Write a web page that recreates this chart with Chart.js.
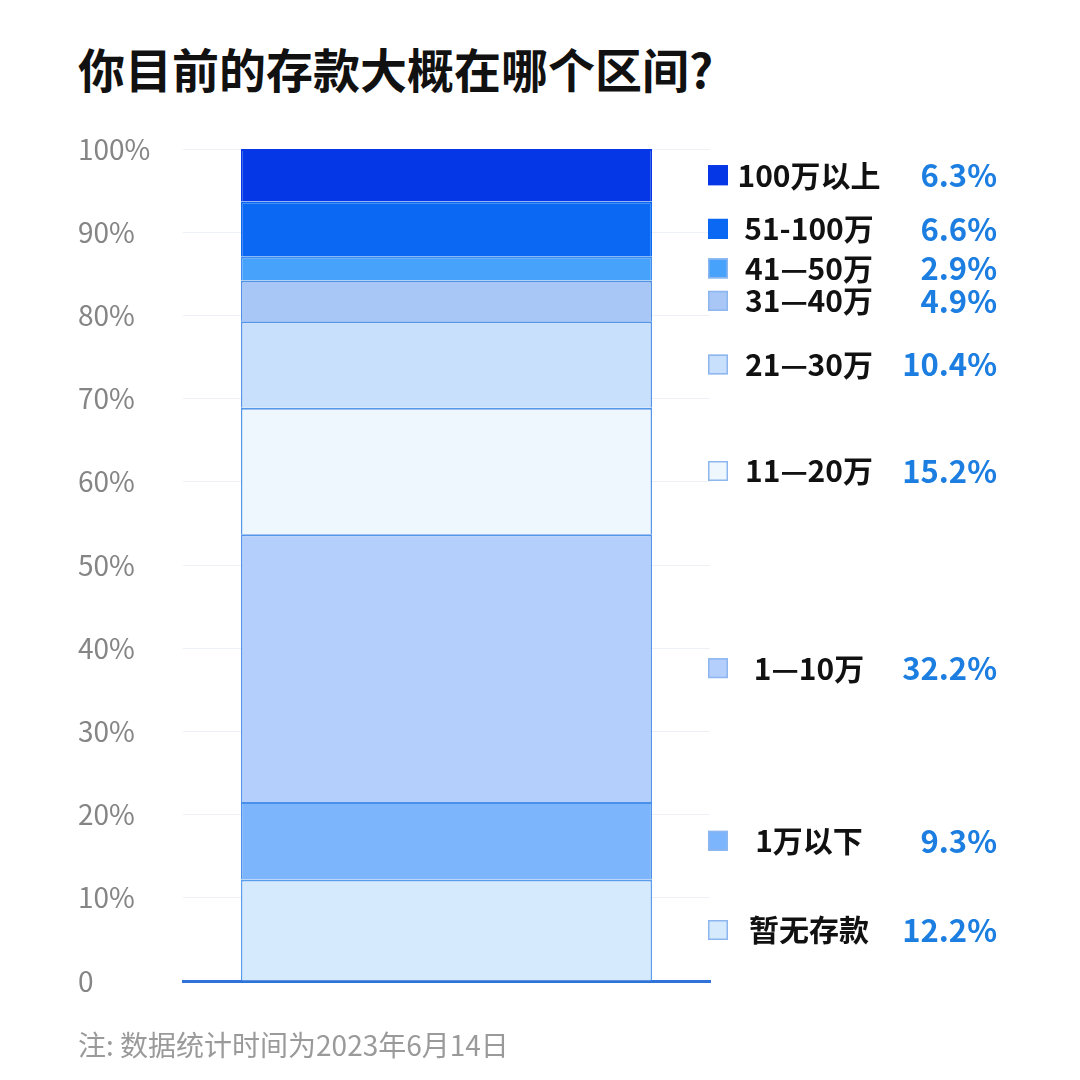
<!DOCTYPE html>
<html lang="zh">
<head>
<meta charset="utf-8">
<title>你目前的存款大概在哪个区间?</title>
<script src="https://cdn.jsdelivr.net/npm/chart.js@4/dist/chart.umd.min.js"></script>
<style>
  html, body { margin: 0; padding: 0; background: #fff; }
  #wrap { position: relative; width: 1080px; height: 1080px; overflow: hidden; }
  #chart { position: absolute; left: 0; top: 0; }
  .title {
    position: absolute; left: 78px; top: 44px; margin: 0;
    font: bold 47px/1 "Noto Sans CJK SC", sans-serif; color: #111;
  }
  .note {
    position: absolute; left: 78px; top: 1030px;
    font: 28px/1 "Noto Sans CJK SC", sans-serif; color: #9a9a9a;
  }
</style>
</head>
<body>
<div id="wrap">
  <h1 class="title">你目前的存款大概在哪个区间?</h1>
  <canvas id="chart" width="1080" height="1080"></canvas>
  <div class="note">注: 数据统计时间为2023年6月14日</div>
</div>
<script>
// stacked from the bottom up
const categories = ["暂无存款", "1万以下", "1—10万", "11—20万", "21—30万", "31—40万", "41—50万", "51-100万", "100万以上"];
const shares = [12.2, 9.3, 32.2, 15.2, 10.4, 4.9, 2.9, 6.6, 6.3];
const yTicks = [0, 10, 20, 30, 40, 50, 60, 70, 80, 90, 100];

const fills = ["#d5eafd", "#7cb5fb", "#b4cffb", "#eef7fe", "#c9e0fd", "#a8c7f7", "#46a2fb", "#0b68f3", "#0637e6"];
const edges = ["#5a9dec", "#4a8fe8", "#5596e8", "#5596e8", "#5596e8", "#5292e4", "#3d8df0", "#0b68f3", "#0637e6"];

const FONT = '"Noto Sans CJK SC", sans-serif';

// legend on the right, each entry placed at the middle of its segment
const sideLegend = {
    id: "sideLegend",
    afterDraw(chart) {
        const ctx = chart.ctx;
        const right = chart.chartArea.right;
        chart.data.datasets.forEach((ds, i) => {
            const bar = chart.getDatasetMeta(i).data[0];
            const y = (bar.y + bar.base) / 2;
            ctx.save();
            ctx.fillStyle = ds.backgroundColor;
            ctx.fillRect(right - 2, y - 10, 20, 20);
            ctx.strokeStyle = i >= 7 ? ds.backgroundColor : "#8db6ee";
            ctx.lineWidth = 1.5;
            ctx.strokeRect(right - 1.25, y - 9.25, 18.5, 18.5);

            ctx.textBaseline = "middle";
            ctx.fillStyle = "#111";
            ctx.textAlign = "center";
            ctx.font = "bold 30px " + FONT;
            ctx.fillText(ds.label, right + 99, y);

            ctx.fillStyle = "#1c7ee0";
            ctx.textAlign = "right";
            ctx.font = "bold 31px " + FONT;
            ctx.fillText(shares[i].toFixed(1) + "%", right + 287, y);
            ctx.restore();
        });
    },
};

new Chart(document.getElementById("chart"), {
    type: "bar",
    data: {
        labels: [""],
        datasets: categories.map((name, i) => ({
            label: name,
            data: [shares[i]],
            backgroundColor: fills[i],
            borderColor: edges[i],
            borderWidth: { top: 2, left: 1.5, right: 1.5, bottom: 0 },
            borderSkipped: false,
            barPercentage: 0.78,
            categoryPercentage: 1,
        })),
    },
    options: {
        responsive: false,
        devicePixelRatio: 1,
        animation: false,
        layout: {
            padding: { left: 78, right: 370, top: 149, bottom: 99 },
        },
        plugins: {
            legend: { display: false },
            tooltip: { enabled: false },
        },
        scales: {
            x: {
                stacked: true,
                afterFit: (scale) => { scale.height = 0; },
                grid: { display: false },
                ticks: { display: false },
                border: { color: "#2f72d8", width: 3 },
            },
            y: {
                stacked: true,
                min: 0,
                max: 100,
                afterFit: (scale) => { scale.width = 105; },
                afterBuildTicks: (scale) => {
                    scale.ticks = yTicks.map((v) => ({ value: v }));
                },
                grid: { color: "#edf0f4", lineWidth: 1, drawTicks: false },
                border: { display: false },
                ticks: {
                    crossAlign: "far",
                    color: "#858585",
                    font: { family: FONT, size: 28 },
                    callback: (v) => (v === 0 ? "0" : v + "%"),
                },
            },
        },
    },
    plugins: [sideLegend],
});
</script>
</body>
</html>
